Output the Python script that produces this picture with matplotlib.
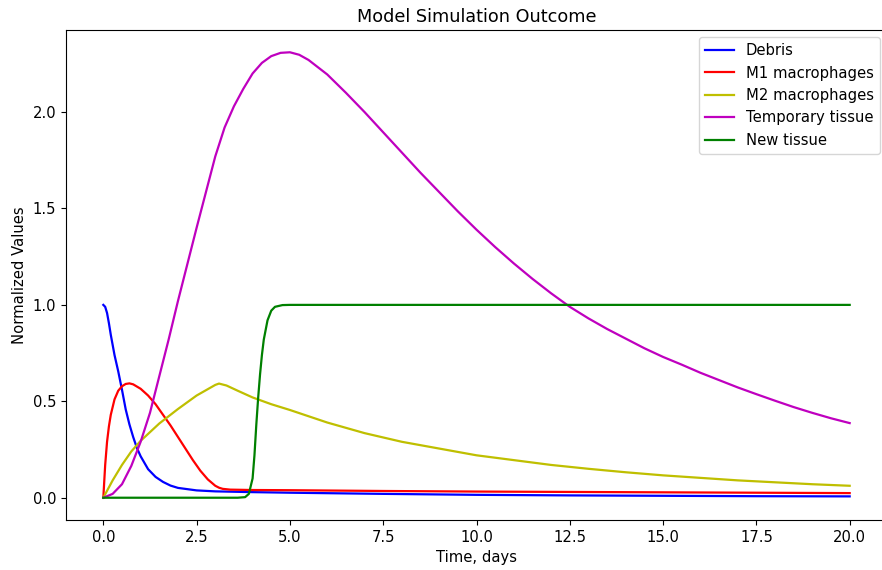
import matplotlib
matplotlib.use('Agg')
import matplotlib.pyplot as plt

# values
t_debris = [0, 0.05, 0.1, 0.15, 0.2, 0.3, 0.4, 0.5, 0.6, 0.7, 0.8, 0.9, 1.0, 1.2, 1.4, 1.6, 1.8, 2.0,
            2.5, 3.0, 3.5, 4.0, 5.0, 7.5, 10.0, 12.5, 15.0, 17.5, 20.0]
debris = [1.0, 0.99, 0.958, 0.905, 0.845, 0.74, 0.655, 0.56, 0.458, 0.38, 0.315, 0.258, 0.215, 0.148,
          0.108, 0.082, 0.063, 0.051, 0.038, 0.033, 0.031, 0.029, 0.026, 0.02, 0.015, 0.012, 0.01,
          0.008, 0.007]

t_m1 = [0, 0.05, 0.1, 0.15, 0.2, 0.3, 0.4, 0.5, 0.6, 0.7, 0.8, 1.0, 1.2, 1.4, 1.6, 1.8, 2.0, 2.2, 2.4,
        2.6, 2.8, 3.0, 3.1, 3.2, 3.4, 4.0, 5.0, 7.5, 10.0, 15.0, 20.0]
m1 = [0, 0.17, 0.29, 0.37, 0.43, 0.51, 0.555, 0.578, 0.59, 0.593, 0.588, 0.565, 0.53, 0.485, 0.43,
      0.375, 0.315, 0.255, 0.195, 0.14, 0.095, 0.062, 0.052, 0.046, 0.042, 0.04, 0.039, 0.035, 0.032,
      0.028, 0.024]

t_m2 = [0, 0.25, 0.5, 0.75, 1.0, 1.5, 2.0, 2.5, 3.0, 3.1, 3.3, 3.6, 4.0, 4.5, 5.0, 6.0, 7.0, 8.0, 9.0,
        10.0, 11.0, 12.0, 13.0, 14.0, 15.0, 16.0, 17.0, 18.0, 19.0, 20.0]
m2 = [0, 0.09, 0.17, 0.24, 0.295, 0.385, 0.46, 0.53, 0.585, 0.592, 0.582, 0.555, 0.52, 0.485, 0.455,
      0.39, 0.335, 0.29, 0.255, 0.22, 0.195, 0.17, 0.15, 0.132, 0.116, 0.103, 0.09, 0.08, 0.07, 0.062]

t_temp = [0, 0.25, 0.5, 0.75, 1.0, 1.25, 1.5, 1.75, 2.0, 2.5, 3.0, 3.25, 3.5, 3.75, 4.0, 4.25, 4.5,
          4.75, 5.0, 5.25, 5.5, 6.0, 6.5, 7.0, 7.5, 8.0, 8.5, 9.0, 9.5, 10.0, 10.5, 11.0, 11.5, 12.0,
          12.5, 13.0, 13.5, 14.0, 14.5, 15.0, 15.5, 16.0, 16.5, 17.0, 17.5, 18.0, 18.5, 19.0, 19.5,
          20.0]
temp_tissue = [0, 0.02, 0.07, 0.165, 0.29, 0.44, 0.63, 0.82, 1.02, 1.40, 1.77, 1.92, 2.03, 2.12, 2.20,
               2.255, 2.29, 2.307, 2.31, 2.297, 2.27, 2.195, 2.10, 2.0, 1.895, 1.79, 1.685, 1.585,
               1.485, 1.39, 1.30, 1.215, 1.135, 1.06, 0.99, 0.93, 0.875, 0.825, 0.775, 0.73, 0.69,
               0.648, 0.61, 0.572, 0.537, 0.503, 0.47, 0.44, 0.412, 0.387]

t_new = [0, 3.6, 3.8, 3.9, 4.0, 4.05, 4.1, 4.15, 4.2, 4.25, 4.3, 4.4, 4.5, 4.6, 4.8, 5.0, 20.0]
new_tissue = [0, 0, 0.003, 0.02, 0.1, 0.22, 0.38, 0.52, 0.64, 0.74, 0.82, 0.92, 0.97, 0.99, 0.999,
              1.0, 1.0]

plt.rcParams['font.size'] = 10.6
plt.rcParams['lines.linewidth'] = 1.6

fig = plt.figure(figsize=(8.82, 5.70), dpi=100)
ax = fig.add_axes([66 / 882, 50 / 570, 821 / 882, 490 / 570])

ax.plot(t_debris, debris, 'b', label='Debris')
ax.plot(t_m1, m1, 'r', label='M1 macrophages')
ax.plot(t_m2, m2, 'y', label='M2 macrophages')
ax.plot(t_temp, temp_tissue, 'm', label='Temporary tissue')
ax.plot(t_new, new_tissue, 'g', label='New tissue')

ax.set_title('Model Simulation Outcome')
ax.set_xlabel('Time, days')
ax.set_ylabel('Normalized Values')
ax.legend(loc='upper right')

fig.savefig('out.png', dpi=100)
